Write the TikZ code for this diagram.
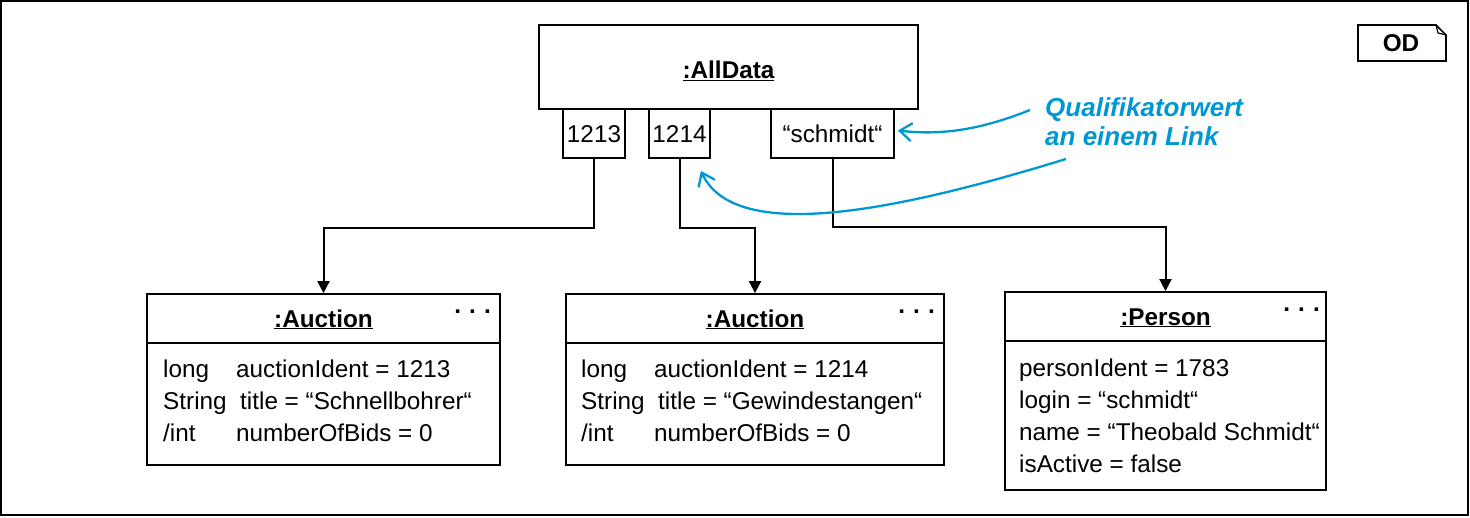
\documentclass[tikz,border=0pt]{standalone}
\usepackage{fontspec}
\setmainfont{Liberation Sans}
\usetikzlibrary{arrows.meta, calc, positioning}
\definecolor{notecol}{RGB}{0,152,210}

\begin{document}
\begin{tikzpicture}[x=1bp, y=-1bp,
    objbox/.style={draw, line width=1.8bp, inner sep=0pt},
    lbl/.style={inner sep=0pt, font=\fontsize{24.3bp}{28bp}\selectfont},
    ttl/.style={lbl, font=\fontsize{24.3bp}{28bp}\selectfont\bfseries},
    note/.style={inner sep=0pt, text=notecol, font=\fontsize{26bp}{29bp}\selectfont\bfseries\itshape},
    link/.style={line width=2bp, -{Triangle[length=12bp,width=12bp]}},
    notearrow/.style={line width=2.3bp, notecol, -{Straight Barb[length=12bp,width=18bp]}}]
    \useasboundingbox (0,0) rectangle (1470,518);
    \draw[line width=1.8bp] (1,1) rectangle (1468,515); % frame

    % OD tag
    \draw[line width=1.6bp] (1358,25) -- (1436,25) -- (1446,35) -- (1446,61) -- (1358,61) -- cycle;
    \draw[line width=1.2bp] (1436,25) -- (1438,33) -- (1446,35);
    \node[ttl, anchor=base] (od) at (1401,52) {OD};

    % AllData with qualifiers
    \node[objbox, minimum width=379bp, minimum height=84bp] (alldata) at (728.5,67) {};
    \node[ttl, anchor=base] (alldatattl) at (728.5,79) {\underline{:AllData}};
    \node[objbox, minimum width=62bp, minimum height=49bp] (q1213) at (594,133.5) {};
    \node[objbox, minimum width=61bp, minimum height=49bp] (q1214) at (679.5,133.5) {};
    \node[objbox, minimum width=123bp, minimum height=49bp] (qschmidt) at (832.5,133.5) {};
    \node[lbl, anchor=base] at (594,143) {1213};
    \node[lbl, anchor=base] at (679.5,143) {1214};
    \node[lbl, anchor=base] at (832.5,143) {``schmidt``};

    % Auction 1213
    \node[objbox, minimum width=353bp, minimum height=171bp] (auc1) at (323.5,379.5) {};
    \draw[line width=1.8bp] (147,343) -- (500,343);
    \node[ttl, anchor=base] at (323.5,327) {\underline{:Auction}};
    \node[ttl, anchor=base east] at (491,313) {.\,\,.\,\,.};
    \node[lbl, anchor=base west] at (163,377) {long};
    \node[lbl, anchor=base west] at (236,377) {auctionIdent = 1213};
    \node[lbl, anchor=base west] at (163,409) {String};
    \node[lbl, anchor=base west] at (240,409) {title = ``Schnellbohrer``};
    \node[lbl, anchor=base west] at (163,441) {/int};
    \node[lbl, anchor=base west] at (236,441) {numberOfBids = 0};

    % Auction 1214
    \node[objbox, minimum width=378bp, minimum height=171bp] (auc2) at (755,379.5) {};
    \draw[line width=1.8bp] (566,343) -- (944,343);
    \node[ttl, anchor=base] at (755,327) {\underline{:Auction}};
    \node[ttl, anchor=base east] at (935,313) {.\,\,.\,\,.};
    \node[lbl, anchor=base west] at (581,377) {long};
    \node[lbl, anchor=base west] at (654,377) {auctionIdent = 1214};
    \node[lbl, anchor=base west] at (581,409) {String};
    \node[lbl, anchor=base west] at (658,409) {title = ``Gewindestangen``};
    \node[lbl, anchor=base west] at (581,441) {/int};
    \node[lbl, anchor=base west] at (654,441) {numberOfBids = 0};

    % Person
    \node[objbox, minimum width=321bp, minimum height=198bp] (pers) at (1165.5,391) {};
    \draw[line width=1.8bp] (1005,341) -- (1326,341);
    \node[ttl, anchor=base] at (1165.5,325) {\underline{:Person}};
    \node[ttl, anchor=base east] at (1320,311) {.\,\,.\,\,.};
    \node[lbl, anchor=base west] at (1019,376) {personIdent = 1783};
    \node[lbl, anchor=base west] at (1019,408) {login = ``schmidt``};
    \node[lbl, anchor=base west] at (1019,440) {name = ``Theobald Schmidt``};
    \node[lbl, anchor=base west] at (1019,472) {isActive = false};

    % links
    \draw[link] (q1213.south) -- ++(0,69) -| (auc1.north);
    \draw[link] (q1214.south) -- ++(0,69) -| (auc2.north);
    \draw[link] (qschmidt.south) -- ++(0,68) -| (pers.north);

    % annotation
    \node[note, anchor=base west] (note1) at (1045,117) {Qualifikatorwert};
    \node[note, anchor=base west] (note2) at (1045,146) {an einem Link};
    \coordinate (n1) at (1030,110);
    \coordinate (n2) at (1066,159);
    \draw[notearrow] (n1) .. controls (985,128) and (945,136) .. ($(qschmidt.east)+(3,-3)$);
    \draw[notearrow] (n2) .. controls (900,210) and (735,245) .. ($(q1214.south east)+(-10,12)$);
\end{tikzpicture}
\end{document}
